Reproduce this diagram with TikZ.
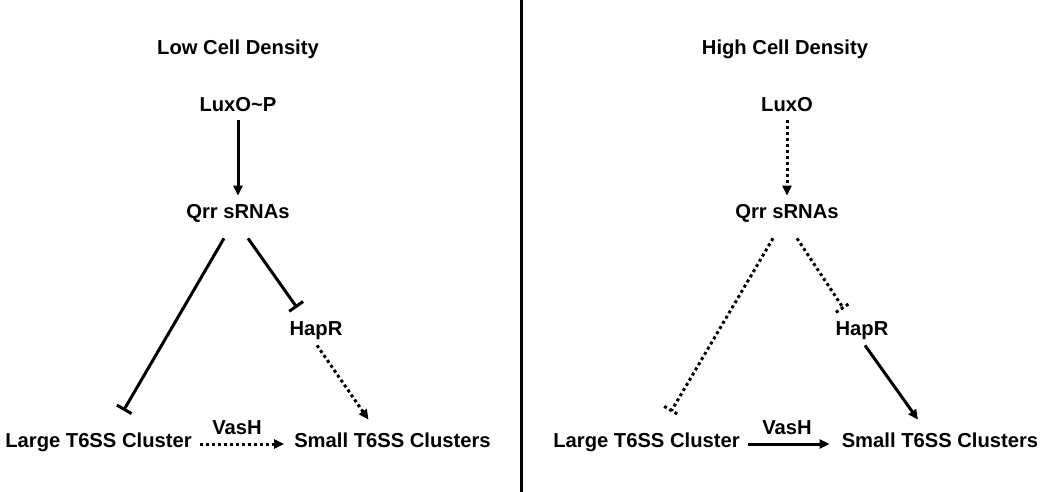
\documentclass[tikz,border=0pt]{standalone}
\usepackage{fontspec}
\setmainfont{Liberation Sans}
\usetikzlibrary{arrows.meta,calc}
\begin{document}
\begin{tikzpicture}[x=1pt,y=-1pt,
  lbl/.style={font=\bfseries\fontsize{20.2}{24}\selectfont, inner sep=0pt, text height=14.3pt, text depth=0pt, anchor=center},
  conn/.style={line width=3pt},
  dots/.style={line width=3pt, dash pattern=on 3pt off 3pt},
  tip/.style={-{Triangle[length=10pt,width=9pt]}},
  inh/.style={-{Bar[width=17pt,line width=3pt]}}]
\useasboundingbox (0,0) rectangle (1050,492);
\fill[white] (0,0) rectangle (1050,492);
\draw[line width=3pt] (521,0) -- (521,492);
% left panel
\node[lbl] (tL) at (238,47) {Low Cell Density};
\node[lbl] (luxoL) at (238,104) {LuxO\textasciitilde P};
\node[lbl] (qrrL) at (238,211) {Qrr sRNAs};
\node[lbl] (haprL) at (316,328) {HapR};
\node[lbl] (largeL) at (98.5,440) {Large T6SS Cluster};
\node[lbl] (smallL) at (392.5,440) {Small T6SS Clusters};
\node[lbl] (vasL) at (237,427) {VasH};
\draw[conn,tip,shorten <=9pt,shorten >=8pt] (luxoL.south) -- (qrrL.north);
\draw[conn,inh] ($(qrrL.south)+(-14,20)$) -- ($(largeL.north)+(25,-22)$);
\draw[conn,inh] ($(qrrL.south)+(10,20)$) -- ($(haprL.north)+(-19,-13)$);
\draw[dots,tip] ($(haprL.south)+(1,10)$) -- ($(smallL.north)+(-24,-13)$);
\draw[dots,tip] ($(largeL.east)+(8,4)$) -- ($(smallL.west)+(-10,4)$);
% right panel
\node[lbl] (tR) at (785,47) {High Cell Density};
\node[lbl] (luxoR) at (787,104) {LuxO};
\node[lbl] (qrrR) at (787,211) {Qrr sRNAs};
\node[lbl] (haprR) at (862,328) {HapR};
\node[lbl] (largeR) at (646.5,440) {Large T6SS Cluster};
\node[lbl] (smallR) at (940,440) {Small T6SS Clusters};
\node[lbl] (vasR) at (787,427) {VasH};
\draw[dots,tip,shorten <=9pt,shorten >=8pt] (luxoR.south) -- (qrrR.north);
\coordinate (qRa) at ($(qrrR.south)+(-14,20)$);
\coordinate (qRaEnd) at ($(largeR.north)+(25,-22)$);
\coordinate (qRb) at ($(qrrR.south)+(10,20)$);
\coordinate (qRbEnd) at ($(haprR.north)+(-19,-13)$);
\draw[dots] (qRa) -- (qRaEnd) ($(qRaEnd)!8.5pt!90:(qRa)$) -- ($(qRaEnd)!8.5pt!-90:(qRa)$);
\draw[dots] (qRb) -- (qRbEnd) ($(qRbEnd)!8.5pt!90:(qRb)$) -- ($(qRbEnd)!8.5pt!-90:(qRb)$);
\draw[conn,tip] ($(haprR.south)+(3,10)$) -- ($(smallR.north)+(-22,-13)$);
\draw[conn,tip] ($(largeR.east)+(8,4)$) -- ($(smallR.west)+(-12,4)$);
\end{tikzpicture}
\end{document}
